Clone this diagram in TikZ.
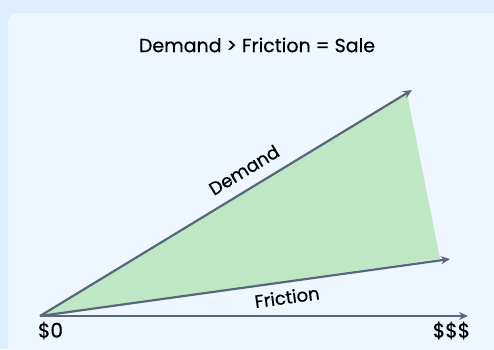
\documentclass[tikz,border=0pt]{standalone}
\usepackage{fontspec}
\setmainfont{Poppins}[FakeBold=0.5]
\usetikzlibrary{arrows.meta}
\definecolor{outerbg}{HTML}{DCEEFD}
\definecolor{innerbg}{HTML}{EEF6FF}
\definecolor{lineclr}{HTML}{56687A}
\definecolor{fillgreen}{HTML}{C0E7C3}
\tikzset{
  axis/.style={draw=lineclr, line width=2.2pt, -{Stealth[length=9pt,width=8pt]}},
  lbl/.style={font=\fontsize{18}{20}\selectfont, text=black, inner sep=0pt},
}
\begin{document}
\begin{tikzpicture}[x=1pt,y=-1pt]
\useasboundingbox (0,0) rectangle (494,349);
\fill[outerbg] (0,0) rectangle (494,349);
\fill[innerbg, rounded corners=9pt] (8,13) rectangle (520,380);
\coordinate (o) at (40,316);
\coordinate (d) at (412,90);
\coordinate (f) at (450,259);
\coordinate (x) at (468,316);
\coordinate (gd) at (407,94);
\coordinate (gf) at (440,258.5);
\fill[fillgreen] (o) -- (gd) -- (gf) -- cycle;
\draw[axis] (o) -- (d);
\draw[axis] (o) -- (f);
\draw[axis] (o) -- (x);
\node[lbl, font=\fontsize{19}{21}\selectfont] (title) at (257,45) {Demand > Friction = Sale};
\node[lbl, rotate=31.3] (dl) at (244,170) {Demand};
\node[lbl, rotate=7.9] (fl) at (287,297) {Friction};
\node[lbl, font=\fontsize{20}{22}\selectfont] (zero) at (50.5,330.5) {\$0};
\node[lbl, font=\fontsize{20}{22}\selectfont] (max) at (451.5,330.5) {\$\$\$};
\end{tikzpicture}
\end{document}
